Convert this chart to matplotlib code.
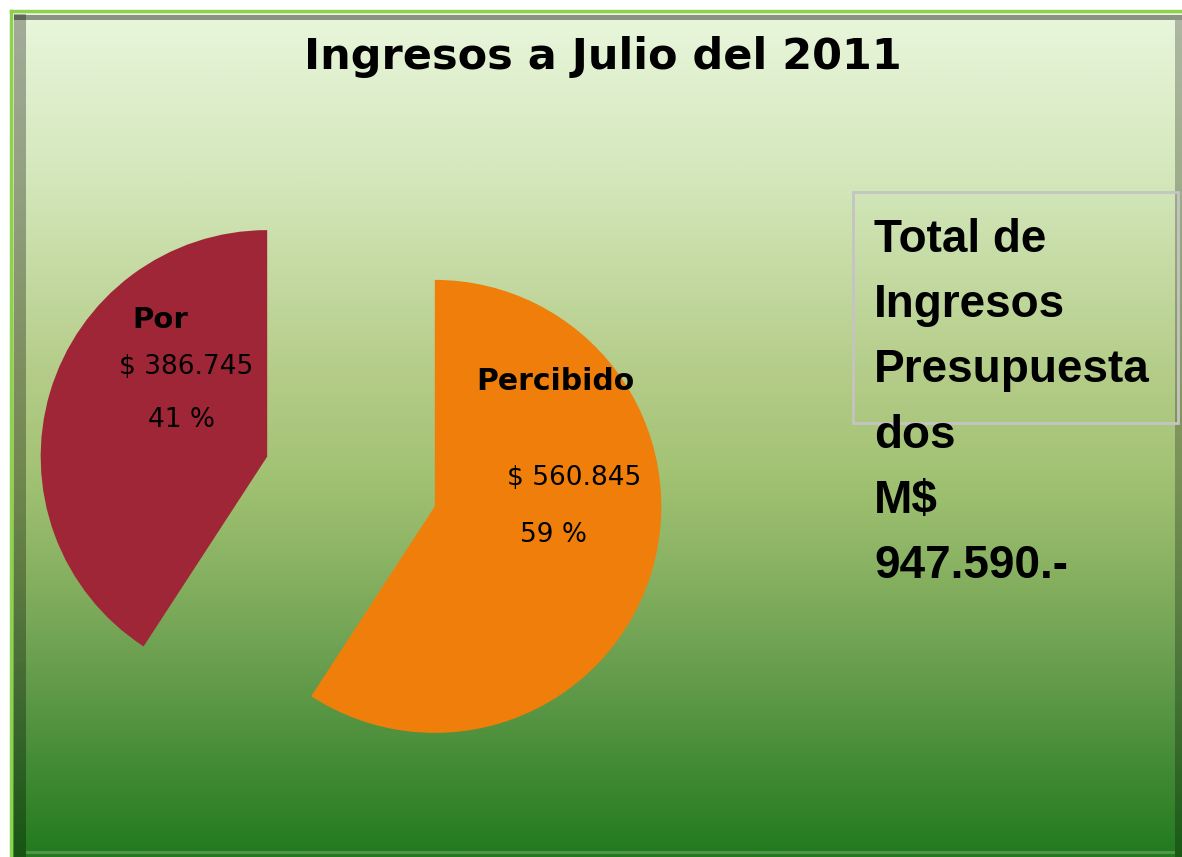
import matplotlib

matplotlib.use("Agg")
import matplotlib.pyplot as plt
import numpy as np
from matplotlib import font_manager
from matplotlib.colors import LinearSegmentedColormap
from matplotlib.patches import Rectangle

# Chart data
categories = ["Percibido", "Por"]
amounts = [560845, 386745]
amount_labels = ["$ 560.845", "$ 386.745"]
pct_labels = ["59 %", "41 %"]
slice_colors = ["#ef7f0a", "#9f2637"]
title = "Ingresos a Julio del 2011"
box_lines = ["Total de", "Ingresos", "Presupuesta", "dos", "M$", "947.590.-"]

W, H = 1182, 857


def Y(y):
    # image row -> data y
    return H - y


def box_font():
    # condensed bold in the original; fall back to the narrowest we have
    for fam in ("Liberation Sans Narrow", "Arial Narrow", "Liberation Sans"):
        try:
            font_manager.findfont(fam, fallback_to_default=False)
            return fam
        except Exception:
            pass
    return "DejaVu Sans"


fig = plt.figure(figsize=(W / 100, H / 100), dpi=100, facecolor="white")
ax = fig.add_axes([0, 0, 1, 1])

# Vertical green gradient behind everything
stops = [
    (0.00, "#e9f6dc"),
    (0.20, "#d3e7ba"),
    (0.43, "#b4cc88"),
    (0.55, "#a2c273"),
    (0.67, "#86b060"),
    (0.79, "#649c4c"),
    (0.91, "#3e8832"),
    (1.00, "#227a1e"),
]
cmap = LinearSegmentedColormap.from_list("bg", stops)
grad = np.linspace(0, 1, 512).reshape(-1, 1)
ax.imshow(grad, cmap=cmap, aspect="auto", extent=(12, W, Y(H), Y(12)),
          origin="upper", zorder=0)

# Frame: light green outer line plus a darker bevel
ax.plot([10.5, W], [Y(11), Y(11)], color="#8fd14f", lw=2.5, zorder=1)
ax.plot([10.5, 10.5], [Y(11), Y(H)], color="#8fd14f", lw=2.5, zorder=1)
ax.add_patch(Rectangle((14, Y(H)), 12, H - 14, color="black", alpha=0.3, lw=0, zorder=1))
ax.add_patch(Rectangle((14, Y(20)), W - 14, 5, color="black", alpha=0.4, lw=0, zorder=1))
ax.add_patch(Rectangle((1175, Y(H)), 7, H - 20, color="black", alpha=0.25, lw=0, zorder=1))
ax.add_patch(Rectangle((26, Y(854)), 1149, 3, color="white", alpha=0.2, lw=0, zorder=1))

# Exploded pie (explode is in data units here, so scale by the radius)
radius = 226.5
explode = [0.386 * radius, 0.386 * radius]
ax.pie(amounts, colors=slice_colors, startangle=90, counterclock=False,
       explode=explode, center=(351, Y(481.5)), radius=radius,
       wedgeprops={"linewidth": 0, "zorder": 2}, frame=True)

# Slice labels
label_font = "DejaVu Sans"
ax.text(555, Y(381), categories[0], ha="center", va="center",
        fontsize=21.5, fontweight="bold", family=label_font, zorder=3)
ax.text(574, Y(478), amount_labels[0], ha="center", va="center",
        fontsize=19, family=label_font, zorder=3)
ax.text(554, Y(535), pct_labels[0], ha="center", va="center",
        fontsize=19, family=label_font, zorder=3)
ax.text(160, Y(320), categories[1], ha="center", va="center",
        fontsize=21, fontweight="bold", family=label_font, zorder=3)
ax.text(186, Y(367), amount_labels[1], ha="center", va="center",
        fontsize=19, family=label_font, zorder=3)
ax.text(181, Y(420), pct_labels[1], ha="center", va="center",
        fontsize=19, family=label_font, zorder=3)

# Title
ax.text(603, Y(57), title, ha="center", va="center", fontsize=31,
        fontweight="bold", family="DejaVu Sans", zorder=3)

# Total box on the right (text overflows the box, as in the original)
ax.add_patch(Rectangle((853, Y(423)), 325, 231, fill=False,
                       edgecolor="#c4c4c4", lw=2, zorder=3))
bf = box_font()
for i, line in enumerate(box_lines):
    ax.text(874, Y(252 + i * 65.2), line, ha="left", va="baseline",
            fontsize=33, fontweight="bold", family=bf, zorder=4)

ax.set_xlim(0, W)
ax.set_ylim(0, H)
ax.set_aspect("auto")
ax.axis("off")

fig.savefig("out.png", dpi=100, facecolor="white")
